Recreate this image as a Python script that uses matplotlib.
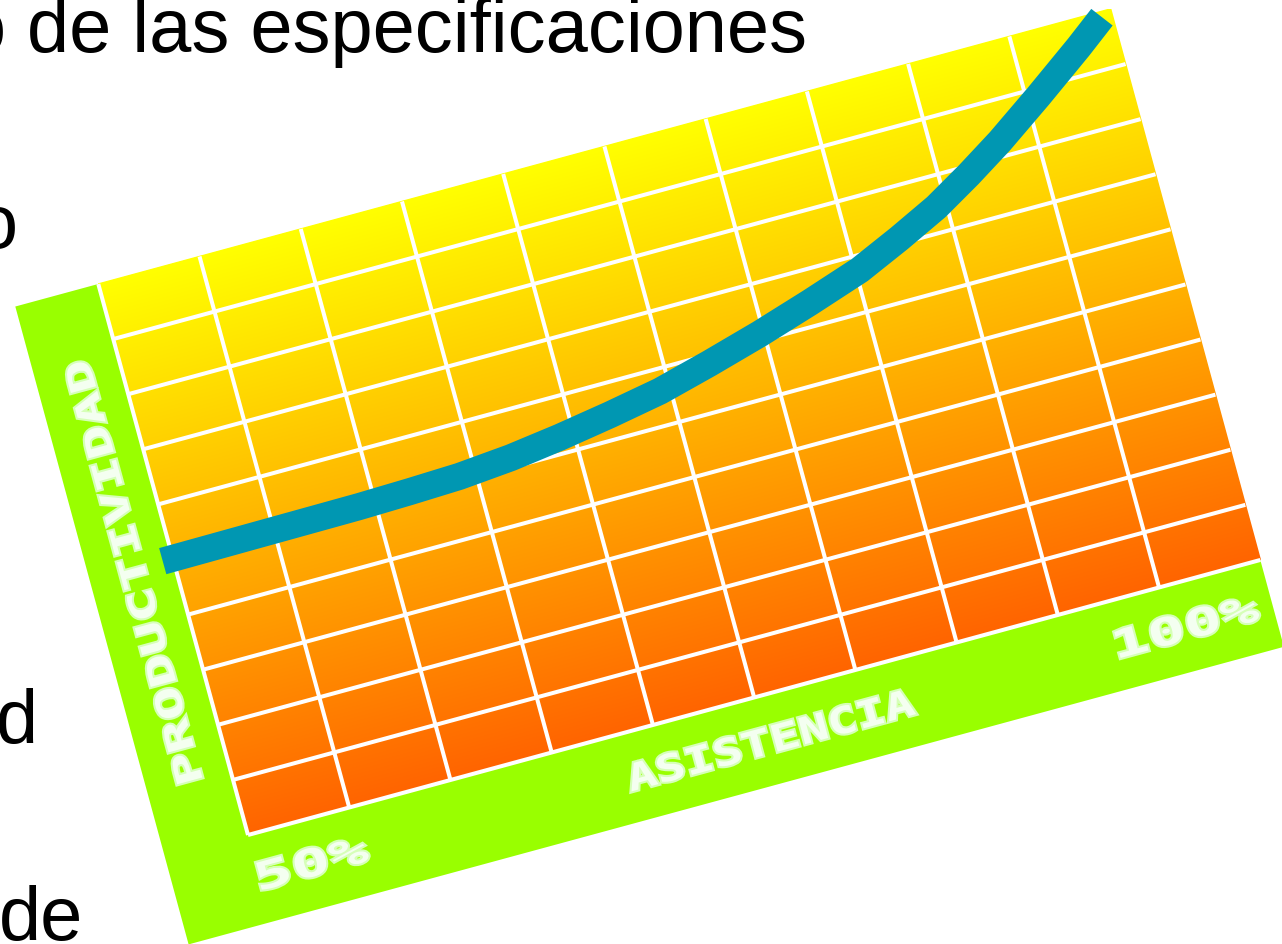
import matplotlib
matplotlib.use("Agg")
import numpy as np
import matplotlib.pyplot as plt
from matplotlib.patches import Rectangle, PathPatch
from matplotlib.textpath import TextPath
from matplotlib.font_manager import FontProperties
from matplotlib.transforms import Affine2D
import matplotlib.patheffects as pe

# curva asistencia (%) -> productividad (% de la altura del grafico)
asistencia = [49.5, 52.0, 54.3, 56.8, 59.2, 61.7, 64.2, 66.8, 69.3, 71.9, 74.5,
              77.1, 79.8, 82.5, 85.2, 87.4, 89.5, 91.4, 93.25, 95.6, 98.05, 99.5]
productividad = [50.2, 50.25, 50.3, 50.35, 50.4, 50.6, 50.9, 51.7, 52.9, 54.4, 56.1,
                 58.5, 61.2, 64.2, 67.4, 70.9, 74.5, 78.5, 82.7, 88.6, 95.0, 99.0]
x_labels = ["50%", "100%"]
x_title = "ASISTENCIA"
y_title = "PRODUCTIVIDAD"
n_cols = 10
n_rows = 10

# fragmentos de texto de la diapositiva (x, y baseline, texto)
slide_text = [(-36, 892, "o de las especificaciones"),
              (-24, 696, "o"),
              (-4, 201, "d"),
              (-1, 4, "de")]

W, H = 1049.0, 571.0      # tamano del grafico en px
angle = 15.2              # rotacion del grafico

fig = plt.figure(figsize=(12.82, 9.44), dpi=100)
ax = fig.add_axes([0, 0, 1, 1])
ax.set_axis_off()

chart = Affine2D().rotate_deg(angle).translate(248, 944 - 835) + ax.transData

# fondo verde
ax.add_patch(Rectangle((-86, -90), W + 86, H + 90, facecolor="#99ff00",
                       edgecolor="none", transform=chart, zorder=1))

# degradado amarillo -> naranja
top = np.array([255, 255, 0, 255]) / 255
bottom = np.array([255, 100, 0, 255]) / 255
t = np.linspace(0, 1, 256)[:, None]
grad = (top * (1 - t) + bottom * t)[:, None, :]
im = ax.imshow(grad, extent=[0, W, 0, H], transform=chart, interpolation="bilinear",
               aspect="auto", zorder=2)
clip = Rectangle((0, 0), W, H, transform=chart, facecolor="none", edgecolor="none")
ax.add_patch(clip)
im.set_clip_path(clip)

# rejilla blanca
for i in range(n_cols):
    u = i * W / n_cols
    ax.plot([u, u], [0, H], color="white", lw=2.9, transform=chart, zorder=3,
            solid_capstyle="butt")
for j in range(n_rows):
    v = j * H / n_rows
    ax.plot([0, W], [v, v], color="white", lw=2.9, transform=chart, zorder=3,
            solid_capstyle="butt")

# curva
u_pts = [(a - 50) / 50 * W for a in asistencia]
v_pts = [p / 100 * H for p in productividad]
ax.plot(u_pts, v_pts, color="#0097b2", lw=19.5, transform=chart, zorder=4,
        solid_capstyle="butt", solid_joinstyle="round")

# etiquetas estilo pixel
fp = FontProperties(family="DejaVu Sans Mono", weight="bold")


def label(s, cu, cv, length, height, vertical=False):
    tp = TextPath((0, 0), s, size=100, prop=fp)
    bb = tp.get_extents()
    tr = Affine2D().translate(-(bb.x0 + bb.x1) / 2, -(bb.y0 + bb.y1) / 2)
    tr = tr.scale(length / bb.width, height / bb.height)
    if vertical:
        tr = tr.rotate_deg(90)
    tr = tr.translate(cu, cv)
    patch = PathPatch(tp, facecolor="#f4fff0", edgecolor="none",
                      transform=tr + chart, zorder=5)
    patch.set_path_effects([pe.Stroke(linewidth=3, foreground="#d6ffb8"), pe.Normal()])
    ax.add_patch(patch)


label(y_title, -42, 284, 433, 27, vertical=True)
label(x_title, 529, -45, 295, 28)
label(x_labels[0], 55, -43, 112, 29)
label(x_labels[1], 961, -44, 145, 29)

for x, y, s in slide_text:
    ax.text(x, y, s, fontsize=54.5, family="Liberation Sans", color="black",
            ha="left", va="baseline", zorder=6)

ax.set_xlim(0, 1282)
ax.set_ylim(0, 944)

fig.savefig("out.png", dpi=100)
